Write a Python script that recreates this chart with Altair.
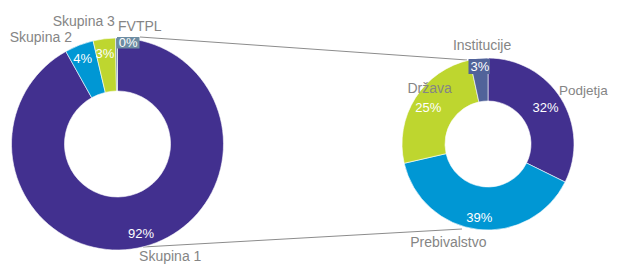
import altair as alt
import pandas as pd

# ---- data -------------------------------------------------------------
left_cats = ["Skupina 1", "Skupina 2", "Skupina 3", "FVTPL"]
left_vals = [0.919, 0.044, 0.034, 0.003]
right_cats = ["Podjetja", "Prebivalstvo", "Država", "Institucije"]
right_vals = [0.323, 0.391, 0.252, 0.034]

# ---- styles -----------------------------------------------------------
left_colors = ["#42308f", "#0097d4", "#bed62f", "#6c8ca2"]
right_colors = ["#42308f", "#0097d4", "#bed62f", "#51639a"]
FONT = "Liberation Sans"
GREY = "#858585"

rows = []
for i, (c, v) in enumerate(zip(left_cats, left_vals)):
    rows.append({"donut": "L", "cat": c, "value": v, "idx": i})
for i, (c, v) in enumerate(zip(right_cats, right_vals)):
    rows.append({"donut": "R", "cat": c, "value": v, "idx": i})
df = pd.DataFrame(rows)

CENTER = {"L": (109.5, 136), "R": (480, 136)}
RADII = {"L": (106, 53), "R": (86, 43)}

theta_scale = alt.Scale(domain=[0, 1])
color_scale = alt.Scale(domain=left_cats + right_cats, range=left_colors + right_colors)

base = (
    alt.Chart(df)
    .transform_stack(stack="value", as_=["v0", "v1"], groupby=["donut"],
                     sort=[alt.SortField("idx", order="ascending")])
    .transform_calculate(mid="(datum.v0 + datum.v1) / 2",
                         pct="format(datum.value, '.0%')")
)


def donut(d):
    cx, cy = CENTER[d]
    ro, ri = RADII[d]
    return (
        base.transform_filter(f"datum.donut == '{d}'")
        .mark_arc(radius=ro, radius2=ri, stroke="white", strokeWidth=0.6)
        .encode(
            theta=alt.Theta("v0:Q", scale=theta_scale),
            theta2="v1:Q",
            color=alt.Color("cat:N", scale=color_scale, legend=None),
            x=alt.value(cx),
            y=alt.value(cy),
        )
    )


def label(d, cat, field, r, dx=0, dy=0, align="center", color="white", size=13):
    cx, cy = CENTER[d]
    return (
        base.transform_filter(f"datum.cat == '{cat}'")
        .mark_text(radius=r, dx=dx, dy=dy, align=align, baseline="middle",
                   fontSize=size, color=color, font=FONT)
        .encode(
            theta=alt.Theta("mid:Q", scale=theta_scale),
            text=alt.Text(f"{field}:N"),
            x=alt.value(cx),
            y=alt.value(cy),
        )
    )


def box(x1, x2, y1, y2, color):
    return alt.Chart(pd.DataFrame({"k": [0]})).mark_rect(color=color).encode(
        x=alt.value(x1), x2=alt.value(x2), y=alt.value(y1), y2=alt.value(y2)
    )


def connector(x1, y1, x2, y2):
    return alt.Chart(pd.DataFrame({"k": [0]})).mark_rule(color="#8c8c8c", strokeWidth=1).encode(
        x=alt.value(x1), x2=alt.value(x2), y=alt.value(y1), y2=alt.value(y2)
    )


layers = [
    connector(132, 29, 459, 52),
    connector(135, 239, 454, 221),
    donut("L"),
    donut("R"),
    box(109, 131.5, 29, 40.5, left_colors[3]),
    box(460.5, 482, 51, 66, right_colors[3]),
    # percentage labels, left
    label("L", "Skupina 1", "pct", 93.5),
    label("L", "Skupina 2", "pct", 92, dx=-1.5, dy=1),
    label("L", "Skupina 3", "pct", 92, dx=-1, dy=1),
    label("L", "FVTPL", "pct", 101, dx=11.5, dy=-0.5),
    # category labels, left
    label("L", "Skupina 1", "cat", 122, dx=22, dy=-5.5, color=GREY, size=14),
    label("L", "Skupina 2", "cat", 113, dx=-4.6, dy=-1, align="right", color=GREY, size=14),
    label("L", "Skupina 3", "cat", 122, dx=12.7, dy=-1, align="right", color=GREY, size=14),
    label("L", "FVTPL", "cat", 117, dx=1.6, dy=0, align="left", color=GREY, size=14),
    # percentage labels, right
    label("R", "Podjetja", "pct", 66, dx=1.5, dy=-1),
    label("R", "Prebivalstvo", "pct", 75),
    label("R", "Država", "pct", 69, dx=-1.5, dy=1),
    label("R", "Institucije", "pct", 77, dx=0),
    # category labels, right
    label("R", "Institucije", "cat", 98, dx=4.5, dy=-0.5, color=GREY, size=14),
    label("R", "Podjetja", "cat", 100, dx=-14, dy=0, align="left", color=GREY, size=13.5),
    label("R", "Država", "cat", 100, dx=26, dy=-1.5, color=GREY, size=14),
    label("R", "Prebivalstvo", "cat", 100, dx=-28, dy=0, color=GREY, size=14),
]

chart = (
    alt.layer(*layers)
    .properties(width=601, height=258, padding=0,
                autosize=alt.AutoSizeParams(type="none"))
    .configure_view(stroke=None)
)

chart.save("out.html", embed_options={"renderer": "svg", "actions": False})
